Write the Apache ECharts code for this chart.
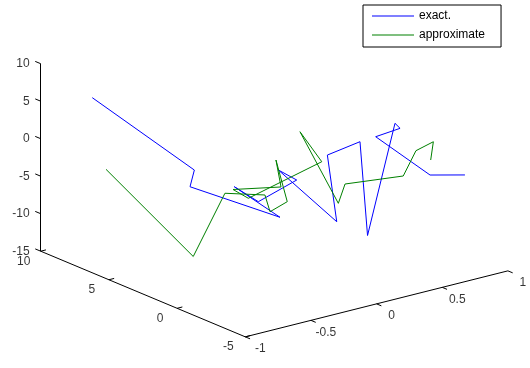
<!DOCTYPE html>
<html>
<head>
<meta charset="utf-8">
<script src="https://cdn.jsdelivr.net/npm/echarts@6/dist/echarts.min.js"></script>
<style>
  html, body { margin: 0; padding: 0; background: #fff; }
  #chart { width: 530px; height: 368px; }
</style>
</head>
<body>
<div id="chart"></div>
<script>
// data (x, y, z)
var exactX = [-1, -0.8, -0.7, -0.6, -0.5, -0.4, -0.3, -0.2, -0.1, 0, 0.1, 0.2, 0.3, 0.4, 0.5, 0.7, 1.0];
var exactY = [6.22, 0.66, 1.94, -3.69, 0.62, -0.18, -2.03, 0.28, -3.04, -1.39, -2.82, -2.41, -3.46, -2.87, -0.12, -2.18, -1.85];
var exactZ = [8.35, 2.05, -1.59, -1.81, -1.46, -3.29, 0.57, -0.29, -5.10, 2.09, 4.52, -8.74, 6.58, 5.02, 1.37, -3.05, -4.61];

var approxX = [-1, -0.85, -0.7, -0.6, -0.5, -0.4, -0.3, -0.25, -0.2, -0.1, 0, 0.1, 0.2, 0.3, 0.5, 0.6, 0.8, 1.0];
var approxY = [5.21, 0.26, -0.62, -2.59, -2.0, -2.30, -0.51, -0.40, 3.60, 3.44, -0.98, 1.58, -0.27, 0.20, -2.14, -2.11, -1.46, 0.66];
var approxZ = [-0.44, -8.95, -0.51, 0.32, -2.8, -1.67, 2.08, -1.82, -5.42, -6.91, 0.89, 2.5, -6.08, -4.30, -2.33, 0.58, 0.40, -4.53];

var xTicks = [-1, -0.5, 0, 0.5, 1];
var yTicks = [10, 5, 0, -5];
var zTicks = [10, 5, 0, -5, -10, -15];

// view: pixel of the (xmin, ymax, zmin) corner and pixel step per data unit
var xMin = -1, yMax = 10, yMin = -5, zMin = -15, xMax = 1, zMax = 10;
var corner = [40.7, 251.2];
var stepX = [131.3, -33];
var stepY = [-13.64, -5.71];
var stepZ = [0, -7.5];

function proj(x, y, z) {
  return [
    corner[0] + (x - xMin) * stepX[0] + (y - yMax) * stepY[0] + (z - zMin) * stepZ[0],
    corner[1] + (x - xMin) * stepX[1] + (y - yMax) * stepY[1] + (z - zMin) * stepZ[1]
  ];
}

function path(xs, ys, zs) {
  var out = [];
  for (var i = 0; i < xs.length; i++) out.push(proj(xs[i], ys[i], zs[i]));
  return out;
}

// axis lines and ticks
var segs = [];
segs.push({ coords: [proj(xMin, yMax, zMin), proj(xMin, yMax, zMax)] });
segs.push({ coords: [proj(xMin, yMax, zMin), proj(xMin, yMin, zMin)] });
segs.push({ coords: [proj(xMin, yMin, zMin), proj(xMax, yMin, zMin)] });
zTicks.forEach(function (t) {
  segs.push({ coords: [proj(xMin, yMax, t), proj(xMin, yMax + 0.4, t)] });
});
yTicks.forEach(function (t) {
  segs.push({ coords: [proj(xMin, t, zMin), proj(xMin + 0.04, t, zMin)] });
});
xTicks.forEach(function (t) {
  segs.push({ coords: [proj(t, yMin, zMin), proj(t, yMin - 0.35, zMin)] });
});

function labels(ticks, fn) {
  return ticks.map(function (t) {
    var p = fn(t);
    return { value: p, name: String(t) };
  });
}

var font = { color: '#000', fontFamily: 'Liberation Sans, Arial, sans-serif', fontSize: 12 };

var chart = echarts.init(document.getElementById('chart'));
var option = {
  animation: false,
  backgroundColor: '#fff',
  grid: { left: 0, right: 0, top: 0, bottom: 0 },
  xAxis: { type: 'value', min: 0, max: 530, show: false },
  yAxis: { type: 'value', min: 0, max: 368, inverse: true, show: false },
  legend: {
    data: [
      { name: 'exact.', icon: 'rect' },
      { name: 'approximate', icon: 'rect' }
    ],
    orient: 'vertical',
    left: 363,
    top: 5,
    padding: [4, 16, 5, 9],
    itemGap: 5,
    itemWidth: 42,
    itemHeight: 1,
    borderColor: '#000',
    borderWidth: 1,
    borderRadius: 0,
    backgroundColor: '#fff',
    selectedMode: false,
    textStyle: Object.assign({ lineHeight: 14 }, font)
  },
  series: [
    {
      type: 'lines',
      coordinateSystem: 'cartesian2d',
      silent: true,
      lineStyle: { color: '#000', width: 1, opacity: 1 },
      data: segs
    },
    {
      name: 'exact.',
      type: 'line',
      symbol: 'none',
      color: '#0000ff',
      lineStyle: { width: 1, color: '#0000ff' },
      data: path(exactX, exactY, exactZ)
    },
    {
      name: 'approximate',
      type: 'line',
      symbol: 'none',
      color: '#008000',
      lineStyle: { width: 1, color: '#008000' },
      data: path(approxX, approxY, approxZ)
    },
    {
      type: 'scatter',
      symbolSize: 0,
      silent: true,
      label: Object.assign({ show: true, position: 'left', distance: 11, formatter: '{b}' }, font),
      data: labels(zTicks, function (t) { return proj(xMin, yMax, t); })
    },
    {
      type: 'scatter',
      symbolSize: 0,
      silent: true,
      label: Object.assign({ show: true, position: 'inside', offset: [-17, 10], formatter: '{b}' }, font),
      data: labels(yTicks, function (t) { return proj(xMin, t, zMin); })
    },
    {
      type: 'scatter',
      symbolSize: 0,
      silent: true,
      label: Object.assign({ show: true, position: 'inside', offset: [15, 12], formatter: '{b}' }, font),
      data: labels(xTicks, function (t) { return proj(t, yMin, zMin); })
    }
  ]
};
chart.setOption(option);
</script>
</body>
</html>
